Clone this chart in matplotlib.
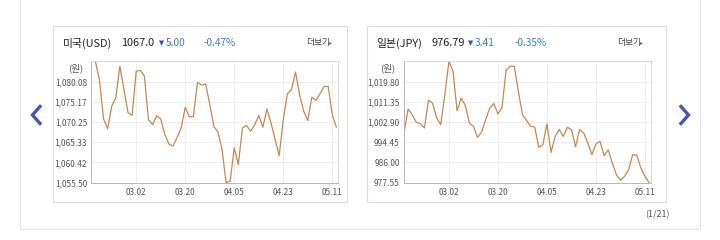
import matplotlib
matplotlib.use('Agg')
import matplotlib.pyplot as plt
from matplotlib.patches import Rectangle
from matplotlib.lines import Line2D

plt.rcParams['font.family'] = ['Noto Sans CJK KR', 'DejaVu Sans']

# values (daily, 61 points)
usd = [1085.0, 1085.0, 1080.5, 1071.0, 1068.6, 1074.1, 1076.1, 1083.8, 1078.1, 1072.5,
       1071.9, 1082.6, 1082.8, 1081.4, 1070.8, 1069.6, 1071.8, 1071.0, 1067.2, 1064.9,
       1064.4, 1066.5, 1068.8, 1073.8, 1071.5, 1071.6, 1079.9, 1079.2, 1079.5, 1074.5,
       1069.2, 1067.8, 1063.7, 1055.5, 1055.9, 1064.0, 1059.9, 1068.8, 1069.4, 1068.0,
       1069.6, 1071.8, 1069.0, 1073.4, 1070.0, 1066.0, 1062.1, 1070.8, 1077.1, 1078.1,
       1082.4, 1076.9, 1072.9, 1070.6, 1076.3, 1075.5, 1077.1, 1078.9, 1078.9, 1072.0,
       1069.0]
jpy = [998.3, 1008.3, 1006.0, 1002.8, 1002.1, 1000.4, 1012.0, 1010.8, 1004.6, 1001.8,
       1014.3, 1028.25, 1024.1, 1007.6, 1012.9, 1009.9, 1002.5, 1001.1, 996.5, 998.7,
       1003.9, 1008.75, 1010.6, 1006.25, 1009.0, 1024.5, 1026.2, 1026.2, 1015.7, 1006.0,
       1003.5, 1001.1, 1000.8, 992.3, 993.4, 1002.1, 990.2, 996.9, 999.7, 996.9,
       1000.7, 999.7, 992.5, 999.7, 998.3, 994.1, 989.25, 993.7, 994.8, 988.8,
       991.3, 985.8, 980.9, 978.5, 980.2, 983.0, 989.25, 989.0, 983.7, 980.2,
       977.55]

tick_pos = [11, 23, 35, 47, 59]
tick_labels = ['03.02', '03.20', '04.05', '04.23', '05.11']

usd_ticks = [1055.50, 1060.42, 1065.33, 1070.25, 1075.17, 1080.08]
usd_range = (1055.50, 1085.00)
jpy_ticks = [977.55, 986.00, 994.45, 1002.90, 1011.35, 1019.80]
jpy_range = (977.55, 1028.25)

names = ['미국(USD)', '일본(JPY)']
prices = ['1067.0', '976.79']
changes = ['5.00', '3.41']
pcts = ['-0.47%', '-0.35%']

W, H = 720, 240
fig = plt.figure(figsize=(W / 100, H / 100), dpi=100)
fig.patch.set_facecolor('white')


def fx(px):
    return px / W


def fy(py):
    return 1 - py / H


def box(x0, y0, x1, y1, color):
    fig.add_artist(Rectangle((fx(x0), fy(y1)), fx(x1) - fx(x0), fy(y0) - fy(y1),
                             transform=fig.transFigure, fill=False,
                             edgecolor=color, linewidth=0.8))


# outer frame and panel frames
box(20, -2, 700, 229, '#e2e2e2')
box(52.5, 26, 347, 202, '#dcdcdc')
box(366.5, 26, 666, 202, '#dcdcdc')


def draw_chart(left_px, values, yticks, yrange):
    ax = fig.add_axes([fx(left_px), fy(182.7), 246.7 / W, 121.4 / H])
    ax.plot(range(len(values)), values, color='#c98650', linewidth=0.9)
    ax.set_xlim(0, 60.4)
    ax.set_ylim(*yrange)
    ax.set_yticks(yticks)
    ax.set_yticklabels(['{:,.2f}'.format(v) for v in yticks])
    ax.set_xticks(tick_pos)
    ax.set_xticklabels(tick_labels)
    ax.tick_params(length=0, labelsize=6, colors='#555555')
    ax.tick_params(axis='y', pad=3)
    ax.tick_params(axis='x', pad=4)
    ax.grid(True, color='#eeeeee', linewidth=0.7)
    ax.set_axisbelow(True)
    for side in ['top', 'right']:
        ax.spines[side].set_color('#d8d8d8')
    for side in ['left', 'bottom']:
        ax.spines[side].set_color('#b8b8b8')
    for s in ax.spines.values():
        s.set_linewidth(0.7)
    ax.text(-0.065, 0.94, '(원)', transform=ax.transAxes, ha='center', va='center',
            fontsize=6.8, color='#555555')
    return ax


draw_chart(91.3, usd, usd_ticks, usd_range)
draw_chart(404, jpy, jpy_ticks, jpy_range)

# headers
header_x = [(62.5, 121.5, 158.5, 165.5, 204, 306),
            (376.5, 431.5, 468, 475, 515, 617)]
for k in range(2):
    xn, xp, xt, xc, xpc, xm = header_x[k]
    yc = fy(43)
    fig.text(fx(xn), yc, names[k], fontsize=7.8, va='center', color='#222222')
    fig.text(fx(xp), yc, prices[k], fontsize=7.8, va='center', color='#222222')
    fig.text(fx(xt), yc, '▼', fontsize=4.8, va='center', color='#1f5bb8', family='DejaVu Sans')
    fig.text(fx(xc), yc, changes[k], fontsize=7.3, va='center', color='#3a7cc2')
    fig.text(fx(xpc), yc, pcts[k], fontsize=7.2, va='center', color='#3a7cc2')
    fig.text(fx(xm), yc, '더보기', fontsize=6.3, va='center', color='#444444')
    fig.text(fx(xm + 22.5), yc, '▸', fontsize=4.2, va='center', color='#666666', family='DejaVu Sans')

# paging arrows
fig.add_artist(Line2D([fx(40), fx(32.5), fx(40)], [fy(106.5), fy(115), fy(123.5)],
                      transform=fig.transFigure, color='#4b56a8', linewidth=2.4,
                      solid_joinstyle='miter'))
fig.add_artist(Line2D([fx(681), fx(688.5), fx(681)], [fy(106.5), fy(115), fy(123.5)],
                      transform=fig.transFigure, color='#4b56a8', linewidth=2.4,
                      solid_joinstyle='miter'))

fig.text(fx(670), fy(215), '(1/21)', fontsize=6.4, ha='right', va='center', color='#555555')

fig.savefig('out.png', dpi=100, facecolor='white')
